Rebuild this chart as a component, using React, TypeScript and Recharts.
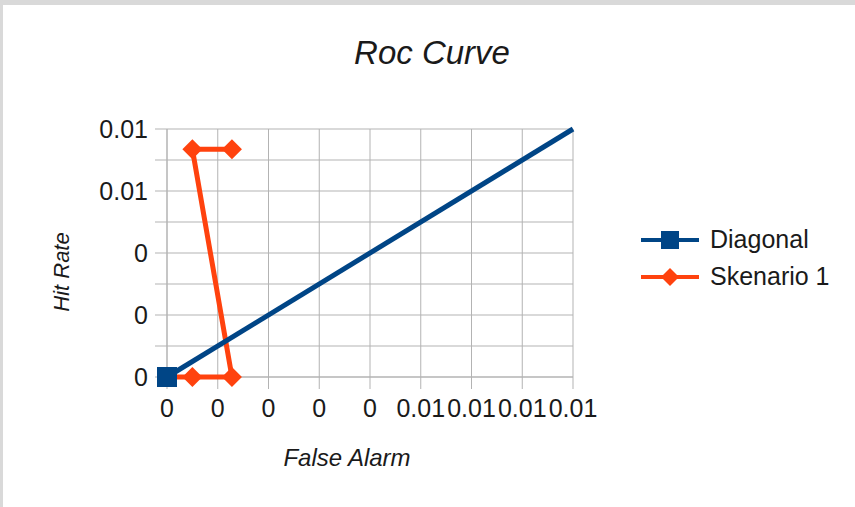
import React from "react";
import { ScatterChart, Scatter, XAxis, YAxis, CartesianGrid } from "recharts";

// ROC curve: diagonal reference vs. scenario 1
const diagonalX = [0, 0.008];
const diagonalY = [0, 0.008];
const skenarioX = [0, 0.0005, 0.00128, 0.0005, 0.00128];
const skenarioY = [0, 0, 0, 0.00735, 0.00735];
const axisTicks = [0, 0.001, 0.002, 0.003, 0.004, 0.005, 0.006, 0.007, 0.008];
const yLabelTicks = [0, 0.002, 0.004, 0.006, 0.008];

const BLUE = "#004586";
const ORANGE = "#ff420e";
const FONT = "'Liberation Sans', Arial, sans-serif";

const diagonalData = diagonalX.map((x, i) => ({ x, y: diagonalY[i] }));
const skenarioData = skenarioX.map((x, i) => ({ x, y: skenarioY[i] }));

const fmt = (v: number) => String(Math.round(v * 100) / 100);

const SquareDot = (props: any) => {
  const { cx, cy, payload } = props;
  if (payload && payload.x >= 0.008) return <g />;
  return <rect x={cx - 10} y={cy - 10} width={20} height={20} fill={BLUE} />;
};

const DiamondDot = (props: any) => {
  const { cx, cy } = props;
  return <path d={`M${cx},${cy - 10} L${cx + 10},${cy} L${cx},${cy + 10} L${cx - 10},${cy} Z`} fill={ORANGE} />;
};

function LegendRow({ color, label, marker }: { color: string; label: string; marker: "square" | "diamond" }) {
  return (
    <div style={{ display: "flex", alignItems: "center", height: 37 }}>
      <svg width={62} height={24} style={{ marginRight: 7 }}>
        <line x1={0} y1={12} x2={58} y2={12} stroke={color} strokeWidth={4} />
        {marker === "square" ? (
          <rect x={20} y={3} width={18} height={18} fill={color} />
        ) : (
          <path d="M29,3 L38,12 L29,21 L20,12 Z" fill={color} />
        )}
      </svg>
      <span style={{ fontSize: 25, color: "#1a1a1a" }}>{label}</span>
    </div>
  );
}

export default function App() {
  return (
    <div style={{ position: "relative", width: 855, height: 507, background: "#d9d9d9", fontFamily: FONT, overflow: "hidden" }}>
      <style>{`body{margin:0}`}</style>
      <div style={{ position: "absolute", left: 3, top: 5, width: 852, height: 502, background: "#fff" }} />
      <div style={{ position: "absolute", left: 0, top: 0 }}>
        <ScatterChart width={855} height={507} margin={{ top: 129, right: 282, left: 0, bottom: 0 }}>
          <CartesianGrid stroke="#b3b3b3" strokeWidth={1} />
          <XAxis
            type="number"
            dataKey="x"
            domain={[0, 0.008]}
            ticks={axisTicks}
            interval={0}
            tickFormatter={fmt}
            height={130}
            tickSize={12}
            tickMargin={10}
            stroke="#b3b3b3"
            tick={{ fontSize: 25, fill: "#1a1a1a", fontFamily: FONT }}
          />
          <YAxis
            type="number"
            dataKey="y"
            domain={[0, 0.008]}
            ticks={axisTicks}
            interval={0}
            tickFormatter={(v: number) => (yLabelTicks.some((t) => Math.abs(t - v) < 1e-9) ? fmt(v) : "")}
            width={167}
            tickSize={12}
            tickMargin={7}
            stroke="#b3b3b3"
            tick={{ fontSize: 25, fill: "#1a1a1a", fontFamily: FONT }}
          />
          {/* scenario first so the diagonal sits on top of it */}
          <Scatter
            name="Skenario 1"
            data={skenarioData}
            line={{ stroke: ORANGE, strokeWidth: 5 }}
            shape={<DiamondDot />}
            fill={ORANGE}
            isAnimationActive={false}
          />
          <Scatter
            name="Diagonal"
            data={diagonalData}
            line={{ stroke: BLUE, strokeWidth: 5 }}
            shape={<SquareDot />}
            fill={BLUE}
            isAnimationActive={false}
          />
        </ScatterChart>
      </div>
      <div style={{ position: "absolute", left: 0, width: 864, top: 34, textAlign: "center", fontSize: 33, fontStyle: "italic", color: "#1a1a1a" }}>
        Roc Curve
      </div>
      <div style={{ position: "absolute", left: 247, width: 200, top: 444, textAlign: "center", fontSize: 24, fontStyle: "italic", color: "#1a1a1a" }}>
        False Alarm
      </div>
      <div
        style={{
          position: "absolute", left: 62, top: 272, width: 200, marginLeft: -100, marginTop: -14, textAlign: "center",
          transform: "rotate(-90deg)", fontSize: 22, fontStyle: "italic", color: "#1a1a1a", lineHeight: "28px",
        }}
      >
        Hit Rate
      </div>
      <div style={{ position: "absolute", left: 641, top: 221 }}>
        <LegendRow color={BLUE} label="Diagonal" marker="square" />
        <LegendRow color={ORANGE} label="Skenario 1" marker="diamond" />
      </div>
    </div>
  );
}
